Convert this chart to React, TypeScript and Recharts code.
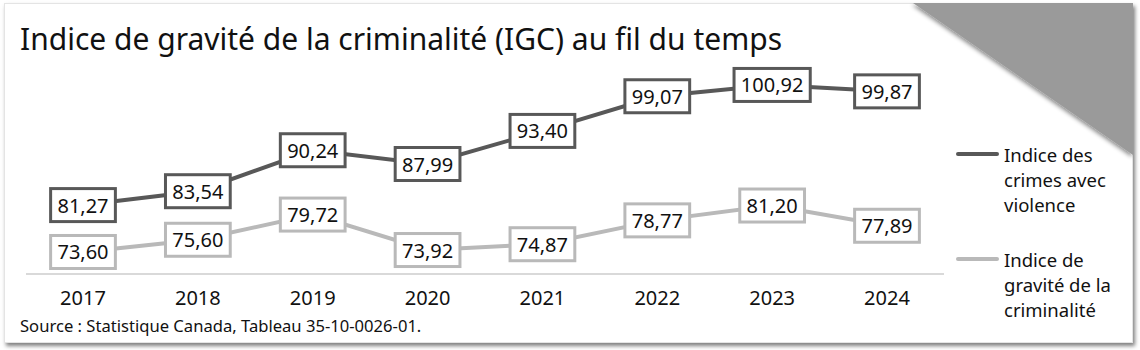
import { Legend, LabelList, Line, LineChart, XAxis, YAxis } from "recharts";

const years = ["2017", "2018", "2019", "2020", "2021", "2022", "2023", "2024"];
const violentCrime = [81.27, 83.54, 90.24, 87.99, 93.4, 99.07, 100.92, 99.87];
const crimeSeverity = [73.6, 75.6, 79.72, 73.92, 74.87, 78.77, 81.2, 77.89];
const seriesNames = ["Indice des crimes avec violence", "Indice de gravité de la criminalité"];

const title = "Indice de gravité de la criminalité (IGC) au fil du temps";
const source = "Source : Statistique Canada, Tableau 35-10-0026-01.";

const DARK = "#585858";
const LIGHT = "#b9b9b9";
const FONT = "'Noto Sans', sans-serif";

const data = years.map((year, i) => ({
  year,
  violent: violentCrime[i],
  severity: crimeSeverity[i],
}));

const fmt = (v: number) => v.toFixed(2).replace(".", ",");

// boxed value label, centred on the point
const boxLabel = (color: string) => (props: any) => {
  const x = props.x ?? props.viewBox?.x;
  const y = props.y ?? props.viewBox?.y;
  if (x == null || y == null) return null;
  const text = fmt(Number(props.value));
  const digits = text.replace(",", "").length;
  const w = digits * 11.44 + 5 + 14;
  const h = 33;
  return (
    <g>
      <rect
        x={x - w / 2}
        y={y - h / 2}
        width={w}
        height={h}
        fill="#fff"
        stroke={color}
        strokeWidth={3}
      />
      <text
        x={x}
        y={y + 7.5}
        textAnchor="middle"
        fontFamily={FONT}
        fontSize={20}
        fill="#111"
      >
        {text}
      </text>
    </g>
  );
};

const YearTick = (props: any) => {
  const { x, y, payload } = props;
  return (
    <text x={x} y={y + 23} textAnchor="middle" fontFamily={FONT} fontSize={20} fill="#111">
      {payload.value}
    </text>
  );
};

const LegendContent = ({ payload }: any) => {
  // keep the series order, not the alphabetical one
  const items = [...(payload || [])].sort(
    (a: any, b: any) => seriesNames.indexOf(a.value) - seriesNames.indexOf(b.value)
  );
  return (
    <div style={{ fontFamily: FONT, fontSize: 18.5, lineHeight: "25px", color: "#111" }}>
      {items.map((entry: any) => (
        <div key={entry.value} style={{ display: "flex", alignItems: "flex-start", marginBottom: 30 }}>
          <svg width={48} height={25} style={{ flex: "none" }}>
            <line x1={2} y1={12} x2={41} y2={12} stroke={entry.color} strokeWidth={4} strokeLinecap="round" />
          </svg>
          <div style={{ width: 125 }}>{entry.value}</div>
        </div>
      ))}
    </div>
  );
};

export default function App() {
  return (
    <div style={{ position: "absolute", left: 0, top: 0, width: 1140, height: 350 }}>
      <div
        style={{
          position: "absolute",
          left: 4,
          top: 3,
          width: 1127,
          height: 338,
          background: "#fff",
          border: "1px solid #e4e4e4",
          boxShadow: "2px 3px 4px rgba(0,0,0,0.5)",
        }}
      />
      <svg width={1140} height={350} style={{ position: "absolute", left: 0, top: 0 }}>
        <defs>
          <filter id="triShadow" x="-20%" y="-20%" width="140%" height="140%">
            <feDropShadow dx={-1} dy={2} stdDeviation={2} floodColor="#000" floodOpacity={0.45} />
          </filter>
          <clipPath id="cardClip">
            <rect x={4} y={3} width={1129} height={340} />
          </clipPath>
        </defs>
        <g clipPath="url(#cardClip)">
          <polygon points="913,3 1133,3 1133,155" fill="#9a9a9a" filter="url(#triShadow)" />
        </g>
        <text x={20} y={50} fontFamily={FONT} fontSize={30} fill="#111">
          {title}
        </text>
        <text x={20} y={332} fontFamily={FONT} fontSize={16.6} fill="#111">
          {source}
        </text>
      </svg>
      <LineChart
        width={1140}
        height={350}
        data={data}
        margin={{ top: 60, right: 196, bottom: 0, left: 26 }}
        style={{ position: "absolute", left: 0, top: 0 }}
      >
        <XAxis
          dataKey="year"
          height={76}
          padding={{ left: 57, right: 57 }}
          axisLine={{ stroke: "#d9d9d9", strokeWidth: 2 }}
          tickLine={false}
          tick={<YearTick />}
          interval={0}
        />
        <YAxis hide width={0} domain={[70, 105]} />
        <Legend
          layout="vertical"
          align="center"
          verticalAlign="middle"
          content={<LegendContent />}
          wrapperStyle={{ left: 956, top: 142, width: 184, height: 220 }}
        />
        <Line
          name={seriesNames[0]}
          dataKey="violent"
          stroke={DARK}
          strokeWidth={4}
          dot={false}
          activeDot={false}
          isAnimationActive={false}
        >
          <LabelList dataKey="violent" content={boxLabel(DARK)} />
        </Line>
        <Line
          name={seriesNames[1]}
          dataKey="severity"
          stroke={LIGHT}
          strokeWidth={4}
          dot={false}
          activeDot={false}
          isAnimationActive={false}
        >
          <LabelList dataKey="severity" content={boxLabel(LIGHT)} />
        </Line>
      </LineChart>
    </div>
  );
}
